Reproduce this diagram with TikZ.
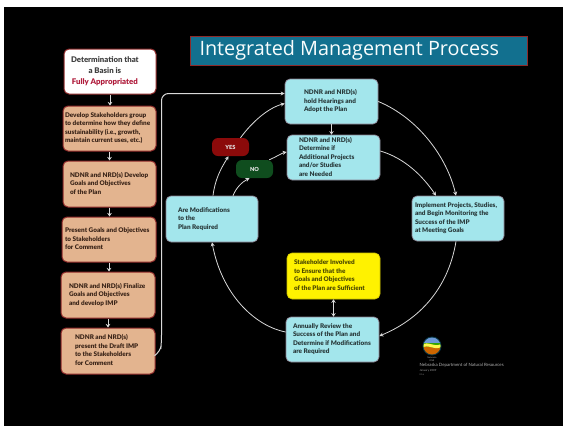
\documentclass[tikz,border=0pt]{standalone}
\usepackage{fontspec}
\setmainfont{Lato}[BoldFont=Lato Black]
\newfontfamily\titlefont{Open Sans}
\usetikzlibrary{arrows.meta}
\definecolor{peach}{HTML}{E3B48F}
\definecolor{rim}{HTML}{8E2A2A}
\definecolor{aqua}{HTML}{A3E6EC}
\definecolor{aquarim}{HTML}{8A8090}
\definecolor{titlebg}{HTML}{12708F}
\definecolor{sun}{HTML}{FFF200}
\definecolor{txt}{HTML}{3A2418}
\definecolor{redt}{HTML}{B01C3C}
\definecolor{yesc}{HTML}{8B0A0A}
\definecolor{noc}{HTML}{0F4D1E}
\tikzset{
  x=1pt,y=-1pt,
  basebox/.style={rounded corners=5pt,font=\bfseries\fontsize{6.4}{8.5}\selectfont,inner sep=0pt,anchor=center},
  peachbox/.style={basebox,fill=peach,draw=rim,line width=1pt,text=txt},
  aquabox/.style={basebox,fill=aqua,draw=aquarim,line width=.7pt,text=black!75!aqua},
  sunbox/.style={basebox,fill=sun,draw=sun!80!black,line width=.6pt,text=black!70!sun},
  pill/.style={rounded corners=6pt,font=\bfseries\fontsize{5.6}{7}\selectfont,text=white!90!black,inner sep=0pt,align=center},
  conn/.style={draw=black!15,line width=.8pt,-{Stealth[length=4pt,width=4pt,fill=white]}},
  shortarrow/.style={draw=black!15,line width=1pt,-{Stealth[length=3.5pt,width=4.5pt,fill=white]}},
}
\newcommand{\bxal}{l}
% name, x1, y1, x2, y2, left pad, style, text
\newcommand{\bx}[8]{%
  \pgfmathsetmacro{\bxw}{#4-#2}\pgfmathsetmacro{\bxh}{#5-#3}%
  \node[#7,minimum width=\bxw pt,minimum height=\bxh pt] (#1) at ({(#2+#4)/2},{(#3+#5)/2}) {\makebox[\bxw pt][l]{\hspace{#6pt}\begin{tabular}{@{}\bxal@{}}#8\end{tabular}}};}
\begin{document}
\begin{tikzpicture}
\useasboundingbox (0,0) rectangle (563,426);
\fill[white] (0,0) rectangle (563,426);
\fill[black] (4,7) rectangle (563,426);
% title
\node[fill=titlebg,draw=rim,line width=.6pt,minimum width=337pt,minimum height=29pt,inner sep=0pt,text=white!92!aqua,font=\titlefont\fontsize{19.8}{22}\selectfont] (title) at (358.5,50.5) {\makebox[337pt][l]{\hspace{9.5pt}\raisebox{-1.5pt}{Integrated Management Process}}};
% left column
\renewcommand{\bxal}{c}
\bx{a}{64}{49}{156}{94}{7}{peachbox,fill=white,text=black!75,font=\bfseries\fontsize{7.8}{11}\selectfont}{Determination that\\a Basin is\\{\color{redt}Fully Appropriated}}
\renewcommand{\bxal}{l}
\bx{b}{63}{106}{156}{151}{2}{peachbox}{Develop Stakeholders group\\to determine how they define\\sustainability (i.e., growth,\\maintain current uses, etc.)}
\bx{c}{63}{161}{156}{207}{7}{peachbox}{NDNR and NRD(s) Develop\\Goals and Objectives\\of the Plan}
\bx{d}{62}{217}{156}{262}{3}{peachbox}{Present Goals and Objectives\\to Stakeholders\\for Comment}
\bx{e}{61}{272}{155}{318}{8}{peachbox}{NDNR and NRD(s) Finalize\\Goals and Objectives\\and develop IMP}
\bx{f}{61}{328}{155}{374}{14}{peachbox}{NDNR and NRD(s)\\present the Draft IMP\\to the Stakeholders\\for Comment}
% cycle
\bx{hear}{285}{79}{378}{124}{19}{aquabox}{NDNR and NRD(s)\\hold Hearings and\\Adopt the Plan}
\bx{det}{287}{135}{380}{180}{12}{aquabox}{NDNR and NRD(s)\\Determine if\\Additional Projects\\and/or Studies\\are Needed}
\bx{impl}{412}{196}{504}{241}{3}{aquabox}{Implement Projects, Studies,\\and Begin Monitoring the\\Success of the IMP\\at Meeting Goals}
\bx{mods}{166}{196}{258}{242}{12}{aquabox}{Are Modifications\\to the\\Plan Required}
\bx{stake}{287}{253}{380}{299}{7}{sunbox}{Stakeholder Involved\\to Ensure that the\\Goals and Objectives\\of the Plan are Sufficient}
\bx{ann}{286}{317}{379}{362}{7}{aquabox}{Annually Review the\\Success of the Plan and\\Determine if Modifications\\are Required}
\node[pill,fill=yesc,minimum width=37pt,minimum height=18pt] (yes) at (230.5,147) {YES};
\node[pill,fill=noc,minimum width=37pt,minimum height=18pt] (no) at (254.5,169) {NO};
% down arrows
\foreach \p/\q in {a/b,b/c,c/d,d/e,e/f}{\draw[shortarrow] (\p.south) -- (\p.south |- \q.north);}
\draw[shortarrow] (hear.south) -- (hear.south |- det.north);
\draw[draw=black!15,line width=1pt,{Stealth[length=3.5pt,width=4.5pt,fill=white]}-{Stealth[length=3.5pt,width=4.5pt,fill=white]}] (stake.south) -- (stake.south |- ann.north);
% big connector from left column to hearings
\draw[conn,line width=1pt,rounded corners=7pt] ([yshift=-4pt]f.east) -- ++(5,-3) -- ++(1,-10) |- ([yshift=8pt]hear.west);
% arcs
\draw[conn] (hear.east) .. controls (418,118) and (447,157) .. ([xshift=-2pt]impl.north);
\draw[conn] ([yshift=6.5pt]det.east) .. controls (404,158) and (422,175) .. ([xshift=-22pt]impl.north);
\draw[conn] ([xshift=-2pt]impl.south) .. controls (448,290) and (418,320) .. ([yshift=3.5pt]ann.east);
\draw[conn] ([yshift=7.5pt]ann.west) .. controls (255,326) and (222,295) .. (mods.south);
\draw[conn] ([xshift=1pt]mods.north) .. controls (215,180) and (220,170) .. ([xshift=-2pt]yes.south);
\draw[conn] ([xshift=21pt]mods.north) .. controls (236,188) and (242,182) .. ([xshift=-5pt]no.south);
\draw[conn] ([xshift=10pt]yes.north) .. controls (252,122) and (268,108) .. ([yshift=-2pt]hear.west);
\draw[conn] ([xshift=-4pt]no.north east) .. controls (276,157) and (282,153) .. ([yshift=5.5pt]det.west);
% logo
\fill[titlebg!50!black] (432,346) circle (9.5);
\begin{scope}
\clip (432,346) circle (8.5);
\fill[cyan!50!blue!60!white] (422,336) rectangle (442,344);
\fill[green!55!black!80!yellow] (422,343) rectangle (442,348);
\fill[orange!80!black] (422,348) .. controls (428,343) and (436,352) .. (442,346) -- (442,356) -- (422,356) -- cycle;
\fill[yellow!70!white] (422,345) .. controls (428,340) and (436,349) .. (442,343) -- (442,346) .. controls (436,352) and (428,343) .. (422,348) -- cycle;
\end{scope}
\node[text=black!35,font=\fontsize{2.2}{2.6}\selectfont,inner sep=0pt,align=center] (lg) at (432,359) {Nebraska\\DNR};
\node[anchor=west,text=black!30,font=\fontsize{4.4}{5}\selectfont,inner sep=0pt] (nd) at (419.5,365.5) {Nebraska Department of Natural Resources};
\node[anchor=west,text=black!40,font=\fontsize{2.8}{3}\selectfont,inner sep=0pt] (jan) at (419.5,371) {January 2009};
\node[anchor=west,text=black!50,font=\fontsize{2.2}{3}\selectfont,inner sep=0pt] (cr) at (419.5,375) {IO.ai};
\end{tikzpicture}
\end{document}
